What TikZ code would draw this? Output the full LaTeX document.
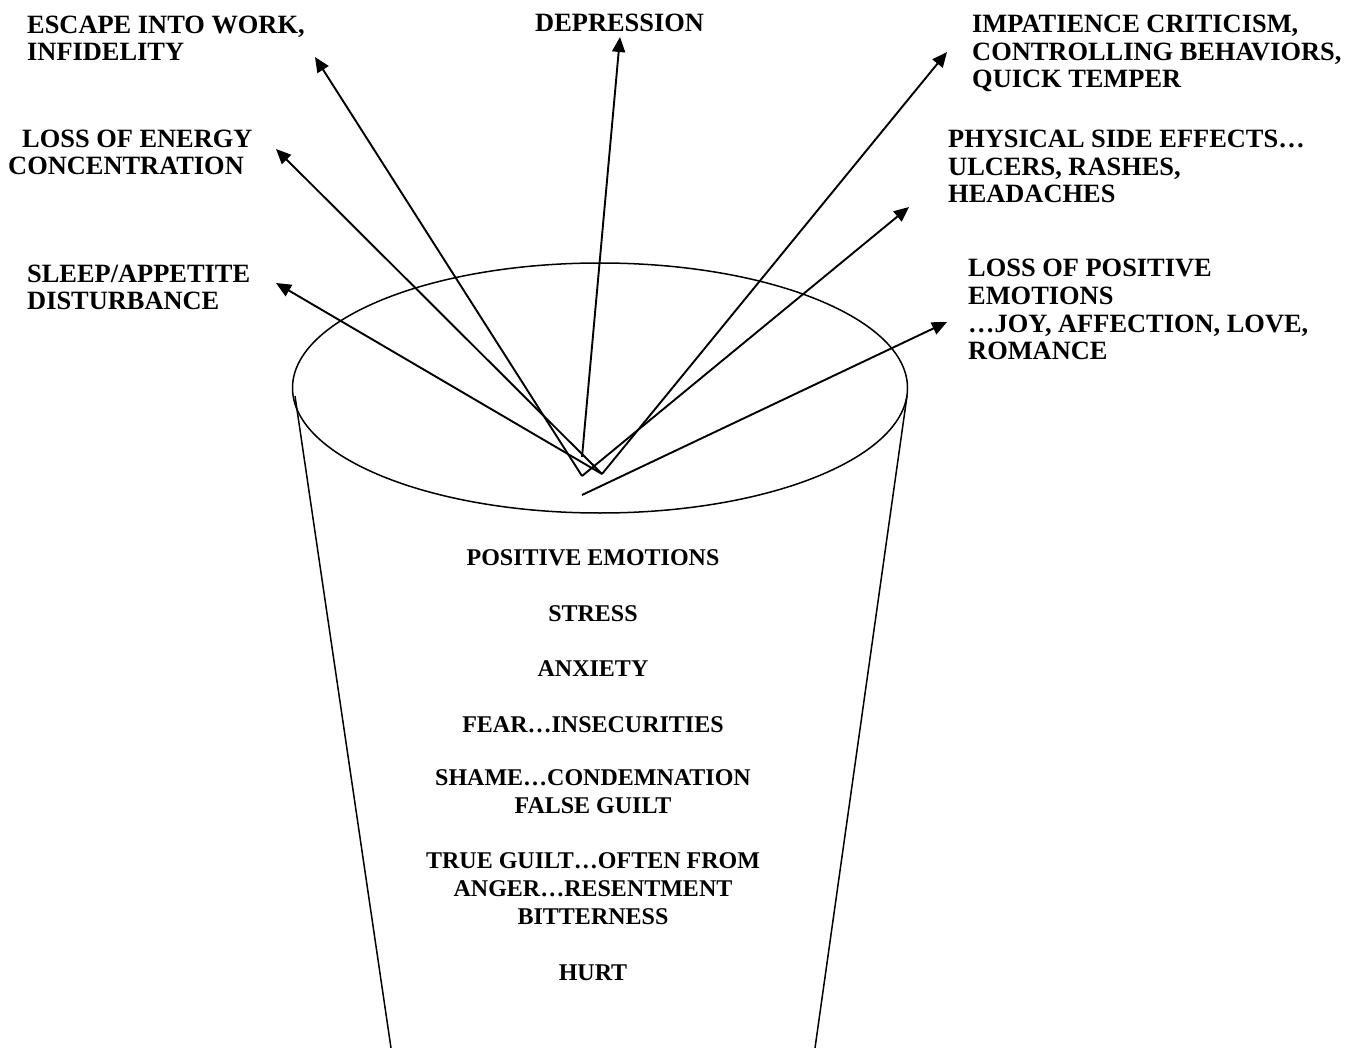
\documentclass[tikz,border=0pt]{standalone}
\usepackage{fontspec}
\setmainfont{Liberation Serif}
\usetikzlibrary{arrows.meta}
\tikzset{
	labelstyle/.style={anchor=base west,align=left,inner sep=0pt,font=\bfseries},
	layerstyle/.style={anchor=base,align=center,inner sep=0pt,font=\fontsize{24}{27.8}\selectfont\bfseries},
	arrowstyle/.style={line width=1.9pt,-{Triangle[length=15pt,width=13pt]}},
	cupstyle/.style={line width=1.5pt}
}

\begin{document}
\begin{tikzpicture}[x=1pt,y=-1pt]
	\fontsize{26.4}{27.8}\selectfont
	\useasboundingbox (0,0) rectangle (1349,1048);
	% the cup
	\draw[cupstyle] (600,388) ellipse [x radius=307.5pt, y radius=125pt];
	\draw[cupstyle] (295,396)--(391,1048);
	\draw[cupstyle] (907,396)--(815,1048);
	% arrow starts and tips
	\coordinate (o1) at (582,476);
	\coordinate (o2) at (602,474);
	\coordinate (o3) at (582,457);
	\coordinate (o4) at (582,495);
	\coordinate (escapetip) at (315,57);
	\coordinate (energytip) at (276,149);
	\coordinate (sleeptip) at (276,283);
	\coordinate (depressiontip) at (620,37);
	\coordinate (impatiencetip) at (947,52);
	\coordinate (physicaltip) at (909,207);
	\coordinate (lossjoytip) at (947,322);
	% outside labels (base = last line)
	\node[labelstyle] (escape) at (27,61) {ESCAPE INTO WORK,\\INFIDELITY};
	\node[labelstyle] (energy) at (8,175) {\hspace{14pt}LOSS OF ENERGY\\CONCENTRATION};
	\node[labelstyle] (sleep) at (27,310) {SLEEP/APPETITE\\DISTURBANCE};
	\node[labelstyle] (depression) at (535,32) {DEPRESSION};
	\node[labelstyle] (impatience) at (972,88) {IMPATIENCE CRITICISM,\\CONTROLLING BEHAVIORS,\\QUICK TEMPER};
	\node[labelstyle] (physical) at (948,203) {PHYSICAL SIDE EFFECTS…\\ULCERS, RASHES,\\HEADACHES};
	\node[labelstyle] (lossjoy) at (968,360) {LOSS OF POSITIVE\\EMOTIONS\\…JOY, AFFECTION, LOVE,\\ROMANCE};
	% inside the cup
	\node[layerstyle] (positive) at (593,565) {POSITIVE EMOTIONS};
	\node[layerstyle] (stress) at (593,621) {STRESS};
	\node[layerstyle] (anxiety) at (593,676) {ANXIETY};
	\node[layerstyle] (fear) at (593,732) {FEAR…INSECURITIES};
	\node[layerstyle] (shame) at (593,813) {SHAME…CONDEMNATION\\FALSE GUILT};
	\node[layerstyle] (guilt) at (593,924) {TRUE GUILT…OFTEN FROM\\ANGER…RESENTMENT\\BITTERNESS};
	\node[layerstyle] (hurt) at (593,980) {HURT};
	% arrows
	\draw[arrowstyle] (o1)--(escapetip);
	\draw[arrowstyle] (o2)--(energytip);
	\draw[arrowstyle] (o2)--(sleeptip);
	\draw[arrowstyle] (o3)--(depressiontip);
	\draw[arrowstyle] (o2)--(impatiencetip);
	\draw[arrowstyle] (o1)--(physicaltip);
	\draw[arrowstyle] (o4)--(lossjoytip);
\end{tikzpicture}
\end{document}
